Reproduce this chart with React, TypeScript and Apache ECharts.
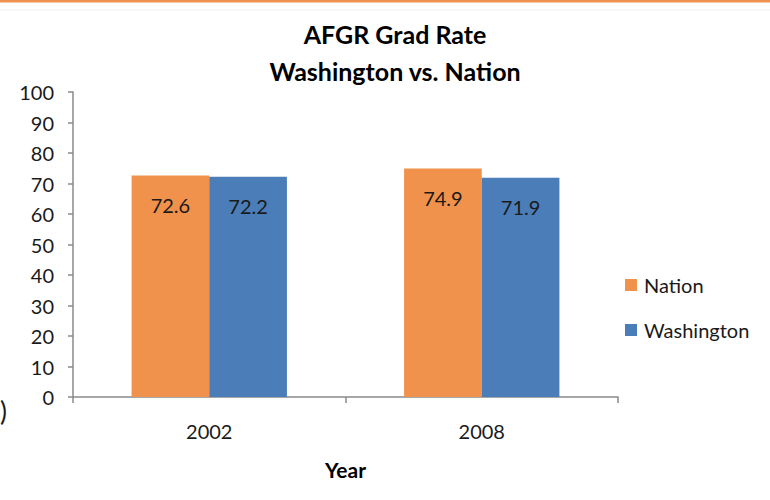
import React, { useEffect, useRef } from "react";
import * as echarts from "echarts";

const years = ["2002", "2008"];
const nation = [72.6, 74.9];
const washington = [72.2, 71.9];
const titleLines = ["AFGR Grad Rate", "Washington vs. Nation"];

const FONT = "'Lato', sans-serif";

export default function App() {
  const ref = useRef<HTMLDivElement>(null);
  useEffect(() => {
    const chart = echarts.init(ref.current!, null, { renderer: "svg" });
    const labelCfg = {
      show: true,
      position: "insideTop",
      distance: 19,
      fontFamily: FONT,
      fontSize: 20,
      color: "#1a1a1a",
    };
    chart.setOption({
      animation: false,
      backgroundColor: "#ffffff",
      title: {
        text: titleLines.join("\n"),
        left: 390,
        textAlign: "center",
        top: 10,
        textStyle: {
          fontFamily: FONT,
          fontWeight: "bold",
          fontSize: 25,
          lineHeight: 37,
          color: "#000000",
        },
      },
      legend: {
        orient: "vertical",
        left: 620,
        top: 270,
        itemWidth: 12,
        itemHeight: 12,
        itemGap: 25,
        icon: "rect",
        textStyle: { fontFamily: FONT, fontSize: 20, color: "#1a1a1a", padding: [0, 0, 0, 2] },
        data: ["Nation", "Washington"],
      },
      grid: { left: 73, right: 152, top: 92, bottom: 103, containLabel: false },
      xAxis: {
        type: "category",
        data: years,
        name: "Year",
        nameLocation: "middle",
        nameGap: 62,
        nameTextStyle: { fontFamily: FONT, fontWeight: "bold", fontSize: 21, color: "#000" },
        axisLine: { show: true, lineStyle: { color: "#8a8a8a", width: 1.5 } },
        axisTick: { show: true, alignWithLabel: false, length: 6, lineStyle: { color: "#8a8a8a", width: 1.5 } },
        axisLabel: { fontFamily: FONT, fontSize: 20, color: "#1a1a1a", margin: 24 },
        splitLine: { show: false },
      },
      yAxis: {
        type: "value",
        min: 0,
        max: 100,
        interval: 10,
        axisLine: { show: true, lineStyle: { color: "#8a8a8a", width: 1.5 } },
        axisTick: { show: true, length: 5, lineStyle: { color: "#8a8a8a", width: 1.5 } },
        axisLabel: { fontFamily: FONT, fontSize: 20, color: "#1a1a1a", margin: 19 },
        splitLine: { show: false },
      },
      series: [
        {
          name: "Nation",
          type: "bar",
          data: nation,
          barGap: "0%",
          barCategoryGap: "43%",
          itemStyle: { color: "#F0924B" },
          label: labelCfg,
        },
        {
          name: "Washington",
          type: "bar",
          data: washington,
          barGap: "0%",
          barCategoryGap: "43%",
          itemStyle: { color: "#4B7DB8" },
          label: labelCfg,
        },
      ],
      graphic: [
        { type: "rect", shape: { x: 0, y: 0, width: 770, height: 2.5 }, style: { fill: "#EF9150" } },
        { type: "line", shape: { x1: 0, y1: 10, x2: 770, y2: 10 }, style: { stroke: "#eef3f3", lineWidth: 1 } },
        {
          type: "text",
          x: 0,
          y: 398,
          style: { text: ")", fontFamily: FONT, fontSize: 26, fill: "#1a1a1a" },
        },
      ],
    });
    return () => chart.dispose();
  }, []);
  return <div ref={ref} style={{ width: 770, height: 500, position: "absolute", left: 0, top: 0 }} />;
}
